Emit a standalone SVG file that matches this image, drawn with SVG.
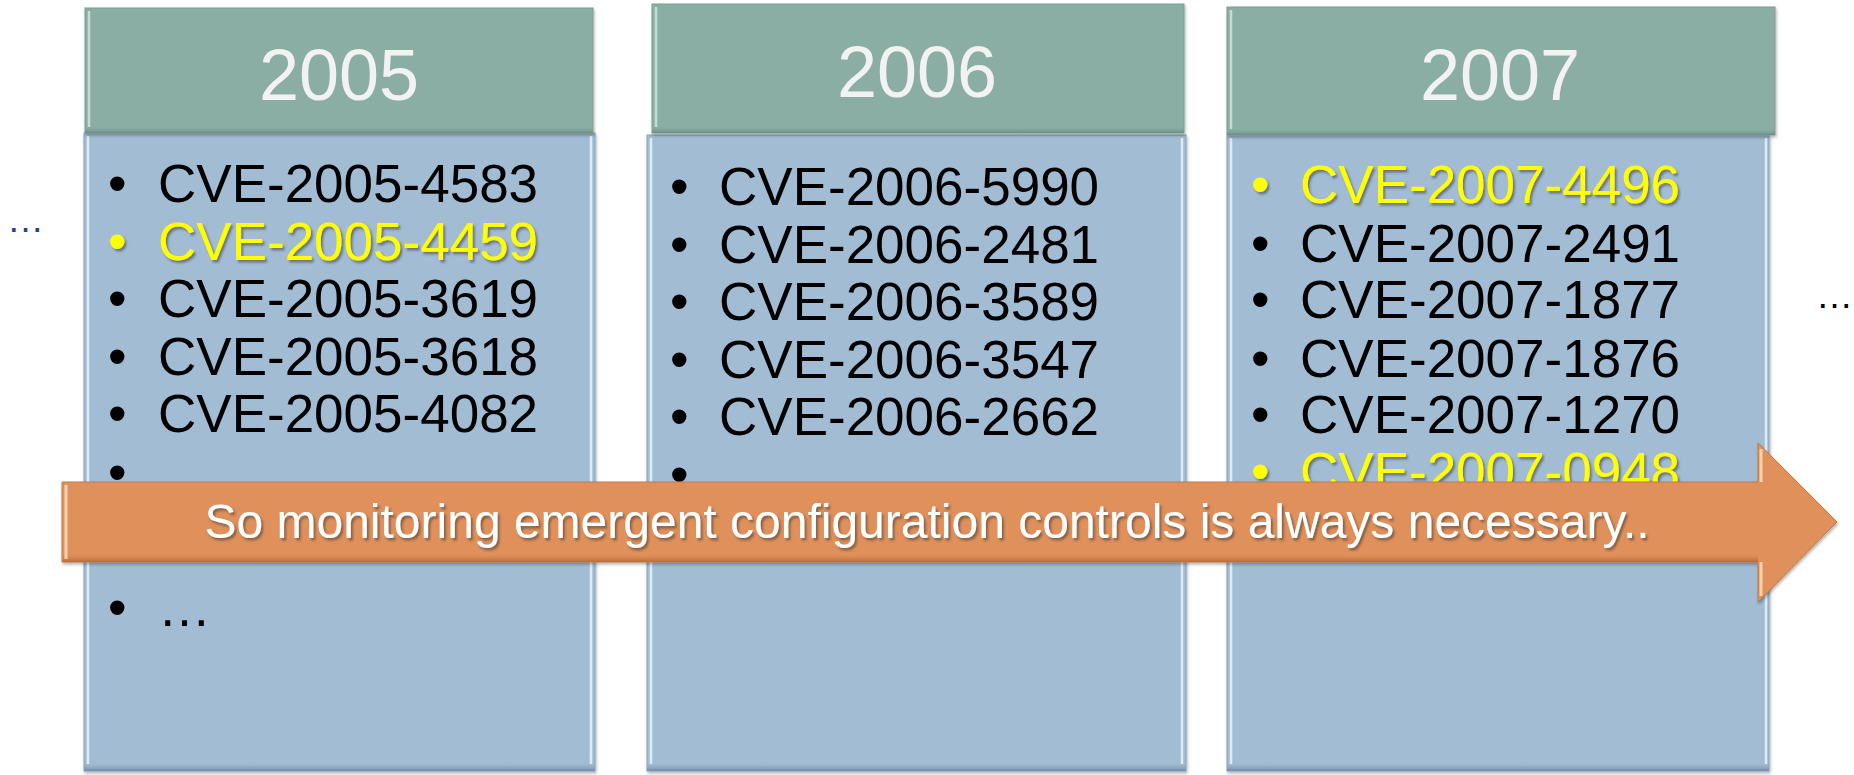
<svg xmlns="http://www.w3.org/2000/svg" width="1854" height="775" viewBox="0 0 1854 775">
<defs>
  <filter id="ts" x="-5%" y="-20%" width="110%" height="150%">
    <feDropShadow dx="2" dy="2.5" stdDeviation="1" flood-color="#3a3a3a" flood-opacity="0.55"/>
  </filter>
  <filter id="bs" x="-5%" y="-5%" width="110%" height="110%">
    <feDropShadow dx="1" dy="2" stdDeviation="1.5" flood-color="#000" flood-opacity="0.3"/>
  </filter>
  <linearGradient id="bodyBottom" x1="0" y1="0" x2="0" y2="1">
    <stop offset="0" stop-color="#a2bcd3" stop-opacity="0"/>
    <stop offset="1" stop-color="#6f8aa3"/>
  </linearGradient>
  <linearGradient id="headBottom" x1="0" y1="0" x2="0" y2="1">
    <stop offset="0" stop-color="#8aaea4" stop-opacity="0"/>
    <stop offset="1" stop-color="#6a8c84"/>
  </linearGradient>
  <linearGradient id="arrowBottom" x1="0" y1="0" x2="0" y2="1">
    <stop offset="0" stop-color="#e0905a" stop-opacity="0"/>
    <stop offset="1" stop-color="#b56c3c"/>
  </linearGradient>
</defs>
<style>
  .head { fill: #8aaea4; stroke: #7c9d94; stroke-width: 1; }
  .body { fill: #a2bcd3; stroke: #8aa3ba; stroke-width: 1; }
  .hl { fill: none; stroke: #dcebf7; stroke-width: 2.5; }
  .hlh { fill: none; stroke: #c4dcd4; stroke-width: 2.5; }
  .year { font-family: "Liberation Sans", Arial, sans-serif; font-size: 72px; fill: #f2f2f2; text-anchor: middle; }
  .cve { font-family: "Liberation Sans", Arial, sans-serif; font-size: 53px; fill: #000; }
  .cve.y { fill: #ffff00; }
  .yel { filter: url(#ts); }
  .msg { font-family: "Liberation Sans", Arial, sans-serif; font-size: 48px; fill: #ffffff; text-anchor: middle; filter: url(#ts); }
  .dots { font-family: "Liberation Sans", Arial, sans-serif; font-size: 37px; }
</style>

<text class="dots" x="7" y="232" fill="#1c4595">…</text>
<text class="dots" x="1816" y="308" fill="#000">…</text>

<g id="col2005">
  <rect class="body" x="84" y="133" width="511" height="638" filter="url(#bs)"/>
  <rect x="84" y="762" width="511" height="9" fill="url(#bodyBottom)"/>
  <line class="hl" x1="88" y1="136" x2="88" y2="764"/>
  <line class="hl" x1="591" y1="136" x2="591" y2="764"/>
  <rect class="head" x="85" y="8" width="508" height="125" filter="url(#bs)"/>
  <rect x="85" y="126" width="508" height="7" fill="url(#headBottom)"/>
  <line class="hlh" x1="89" y1="11" x2="89" y2="127"/>
  <text class="year" x="339" y="100">2005</text>
  <text class="cve" x="108" y="202">•</text><text class="cve" x="158" y="202">CVE-2005-4583</text>
  <g class="yel"><text class="cve y" x="108" y="260">•</text><text class="cve y" x="158" y="260">CVE-2005-4459</text></g>
  <text class="cve" x="108" y="317">•</text><text class="cve" x="158" y="317">CVE-2005-3619</text>
  <text class="cve" x="108" y="375">•</text><text class="cve" x="158" y="375">CVE-2005-3618</text>
  <text class="cve" x="108" y="432">•</text><text class="cve" x="158" y="432">CVE-2005-4082</text>
  <text class="cve" x="108" y="491">•</text>
  <text class="cve" x="108" y="626">•</text><text class="cve" x="158" y="626">…</text>
</g>

<g id="col2006">
  <rect class="body" x="647" y="135" width="539" height="636" filter="url(#bs)"/>
  <rect x="647" y="762" width="539" height="9" fill="url(#bodyBottom)"/>
  <line class="hl" x1="651" y1="138" x2="651" y2="764"/>
  <line class="hl" x1="1182" y1="138" x2="1182" y2="764"/>
  <rect class="head" x="652" y="4" width="532" height="129" filter="url(#bs)"/>
  <rect x="652" y="126" width="532" height="7" fill="url(#headBottom)"/>
  <line class="hlh" x1="656" y1="7" x2="656" y2="127"/>
  <text class="year" x="917" y="97">2006</text>
  <text class="cve" x="670" y="205">•</text><text class="cve" x="719" y="205">CVE-2006-5990</text>
  <text class="cve" x="670" y="263">•</text><text class="cve" x="719" y="263">CVE-2006-2481</text>
  <text class="cve" x="670" y="320">•</text><text class="cve" x="719" y="320">CVE-2006-3589</text>
  <text class="cve" x="670" y="378">•</text><text class="cve" x="719" y="378">CVE-2006-3547</text>
  <text class="cve" x="670" y="435">•</text><text class="cve" x="719" y="435">CVE-2006-2662</text>
  <text class="cve" x="670" y="493">•</text>
</g>

<g id="col2007">
  <rect class="body" x="1227" y="135" width="542" height="636" filter="url(#bs)"/>
  <rect x="1227" y="762" width="542" height="9" fill="url(#bodyBottom)"/>
  <line class="hl" x1="1231" y1="138" x2="1231" y2="764"/>
  <line class="hl" x1="1766" y1="138" x2="1766" y2="764"/>
  <rect class="head" x="1227" y="7" width="548" height="128" filter="url(#bs)"/>
  <rect x="1227" y="128" width="548" height="7" fill="url(#headBottom)"/>
  <line class="hlh" x1="1231" y1="10" x2="1231" y2="129"/>
  <text class="year" x="1500" y="100">2007</text>
  <g class="yel"><text class="cve y" x="1251" y="203">•</text><text class="cve y" x="1300" y="203">CVE-2007-4496</text></g>
  <text class="cve" x="1251" y="262">•</text><text class="cve" x="1300" y="262">CVE-2007-2491</text>
  <text class="cve" x="1251" y="318">•</text><text class="cve" x="1300" y="318">CVE-2007-1877</text>
  <text class="cve" x="1251" y="377">•</text><text class="cve" x="1300" y="377">CVE-2007-1876</text>
  <text class="cve" x="1251" y="433">•</text><text class="cve" x="1300" y="433">CVE-2007-1270</text>
  <g class="yel"><text class="cve y" x="1251" y="490">•</text><text class="cve y" x="1300" y="490">CVE-2007-0948</text></g>
</g>

<g id="arrow">
  <polygon points="62,482 1758,482 1758,443 1837,522 1758,602 1758,562 62,562" fill="#e0905a" stroke="#c07a4a" stroke-width="1" filter="url(#bs)"/>
  <rect x="63" y="553" width="1695" height="9" fill="url(#arrowBottom)"/>
  <line x1="66" y1="485" x2="66" y2="559" stroke="#fbd1a8" stroke-width="3"/>
  <line x1="1761" y1="449" x2="1761" y2="482" stroke="#fbd1a8" stroke-width="3"/>
  <line x1="1761" y1="562" x2="1761" y2="596" stroke="#fbd1a8" stroke-width="3"/>
  <text class="msg" x="927" y="538">So monitoring emergent configuration controls is always necessary..</text>
</g>
</svg>
